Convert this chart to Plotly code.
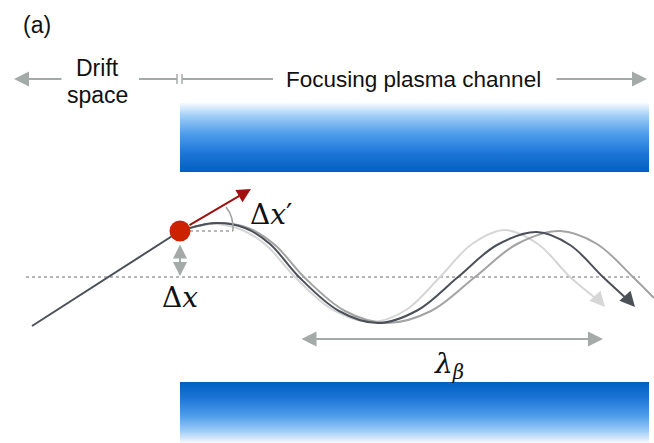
import plotly.graph_objects as go

W, H = 654, 443

# ---- data (diagram geometry in pixel units) ----
channel_top_x = [180, 649, 649, 180, 180]
channel_top_y = [103, 103, 172, 172, 103]
channel_bot_x = [180, 649, 649, 180, 180]
channel_bot_y = [382, 382, 443, 443, 382]

axis_x = [26, 640]
axis_y = [277, 277]

drift_x = [32, 180]
drift_y = [326, 231]

dark_x = [180, 215, 245, 270, 299, 339, 378, 418, 458, 497, 537, 570, 603, 628]
dark_y = [231, 223, 228, 244, 277, 311, 323, 310, 277, 245, 232, 245, 277, 300]

light_x = [180, 212, 242, 266, 295, 333, 372, 406, 440, 472, 505, 538, 570, 598]
light_y = [231, 224, 230, 245, 277, 310, 322, 310, 277, 244, 230, 244, 277, 300]

mid_x = [180, 217, 248, 275, 304, 345, 387, 431, 475, 517, 560, 597, 633, 654]
mid_y = [231, 223, 228, 245, 277, 311, 323, 311, 277, 244, 231, 244, 277, 298]

fig = go.Figure()

blue_down = [[0, '#f6fafe'], [0.2, '#9ccbf6'], [0.45, '#4d9ceb'], [0.75, '#1a74d6'], [1, '#0060c0']]
blue_up = [[0, '#0060c0'], [0.25, '#1a74d6'], [0.55, '#4d9ceb'], [0.8, '#9ccbf6'], [1, '#f6fafe']]

fig.add_trace(go.Scatter(x=channel_top_x, y=channel_top_y, mode='none', fill='toself',
                         fillgradient=dict(type='vertical', colorscale=blue_down, start=103, stop=172),
                         hoverinfo='skip', showlegend=False))
fig.add_trace(go.Scatter(x=channel_bot_x, y=channel_bot_y, mode='none', fill='toself',
                         fillgradient=dict(type='vertical', colorscale=blue_up, start=382, stop=443),
                         hoverinfo='skip', showlegend=False))

# dotted axis
fig.add_trace(go.Scatter(x=axis_x, y=axis_y, mode='lines',
                         line=dict(color='#a0a0a0', width=1.5, dash='dot'), hoverinfo='skip', showlegend=False))
fig.add_trace(go.Scatter(x=[190, 233], y=[231, 231], mode='lines',
                         line=dict(color='#a0a0a0', width=1.5, dash='dot'), hoverinfo='skip', showlegend=False))

# trajectories
for xs, ys, col in [(light_x, light_y, '#d6d6d6'), (mid_x, mid_y, '#a3a3a3'), (dark_x, dark_y, '#4c5059')]:
    fig.add_trace(go.Scatter(x=xs, y=ys, mode='lines', line=dict(color=col, width=2, shape='spline', smoothing=1.0),
                             hoverinfo='skip', showlegend=False))

fig.add_trace(go.Scatter(x=drift_x, y=drift_y, mode='lines', line=dict(color='#4c5059', width=2),
                         hoverinfo='skip', showlegend=False))

# angle arc
fig.add_shape(type='path', path='M 226 207 Q 234 217 233 231', line=dict(color='#a0a0a0', width=1.5))

# red particle
fig.add_trace(go.Scatter(x=[180], y=[231], mode='markers', marker=dict(size=21, color='#cc2200', line=dict(width=0)),
                         hoverinfo='skip', showlegend=False))

def arrow(x0, y0, x1, y1, color, width=2, size=1.0, side='end'):
    fig.add_annotation(x=x1, y=y1, ax=x0, ay=y0, xref='x', yref='y', axref='x', ayref='y',
                       text='', showarrow=True, arrowhead=2, arrowsize=size, arrowwidth=width,
                       arrowcolor=color, arrowside=side, standoff=0, startstandoff=0)

grey = '#a4aaa8'
# red velocity arrow
arrow(188, 226, 251, 189, '#a01010', 2, 1.4)
# delta x double arrow
arrow(180, 243, 180, 276, grey, 2, 1.4, 'end+start')
# trajectory arrowheads
arrow(596, 297, 605, 307, '#d6d6d6', 2, 1.5)
arrow(626, 297, 635, 307, '#4c5059', 2, 1.5)
# lambda beta arrow
arrow(300, 339, 603, 339, grey, 2, 1.5, 'end+start')
# top arrows
arrow(63, 79, 14, 79, grey, 2, 1.5)
arrow(555, 79, 647, 79, grey, 2, 1.5)
for x0, x1 in [(139, 177), (182, 273)]:
    fig.add_shape(type='line', x0=x0, x1=x1, y0=79, y1=79, line=dict(color=grey, width=2))
for xt in [177, 182]:
    fig.add_shape(type='line', x0=xt, x1=xt, y0=74, y1=84, line=dict(color=grey, width=1.5))

sans = 'Liberation Sans, Arial, Helvetica, sans-serif'
serif = 'DejaVu Serif, Liberation Serif, serif'
def text(x, y, s, size=22, family=sans):
    fig.add_annotation(x=x, y=y, xref='x', yref='y', text=s, showarrow=False,
                       font=dict(family=family, size=size, color='#111111'), xanchor='center', yanchor='middle')

text(37, 25, '(a)', 23)
text(97, 68, 'Drift', 23)
text(97, 95, 'space', 23)
text(413, 79, 'Focusing plasma channel', 22.5)
text(271, 214, 'Δ<i>x</i>′', 28, serif)
text(180, 297, 'Δ<i>x</i>', 28, serif)
text(449, 365, '<i>λ</i><sub><i>β</i></sub>', 28, serif)

fig.update_layout(width=W, height=H, margin=dict(l=0, r=0, t=0, b=0),
                  paper_bgcolor='white', plot_bgcolor='white', showlegend=False,
                  xaxis=dict(range=[0, W], visible=False, fixedrange=True),
                  yaxis=dict(range=[H, 0], visible=False, fixedrange=True))

fig.write_html('out.html', config={'displayModeBar': False},
               post_script="document.body.style.margin='0';document.body.style.overflow='hidden';")
